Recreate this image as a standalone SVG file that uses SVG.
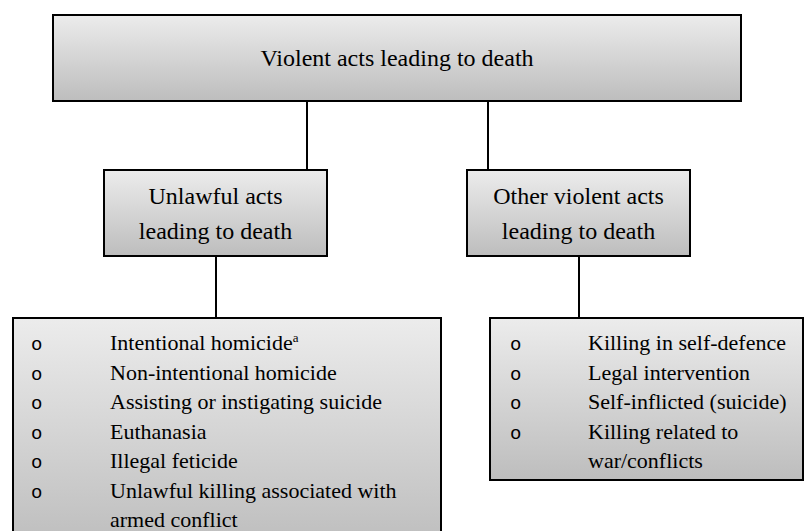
<svg xmlns="http://www.w3.org/2000/svg" width="807" height="531" viewBox="0 0 807 531">
<defs>
<linearGradient id="g" x1="0" y1="0" x2="0" y2="1">
<stop offset="0" stop-color="#ececec"/>
<stop offset="1" stop-color="#bdbdbd"/>
</linearGradient>
<style>
.box{fill:url(#g);stroke:#000;stroke-width:2}
.t{font-family:"Liberation Serif","Times New Roman",serif;fill:#000}
.h{font-size:24px;text-anchor:middle}
.l{font-size:22px}
.b{font-family:"Liberation Mono","Courier New",monospace;font-size:19px;fill:#000}
.c{stroke:#000;stroke-width:2;fill:none}
</style>
</defs>
<rect width="807" height="531" fill="#fff"/>
<g id="connectors">
<line class="c" x1="307" y1="101" x2="307" y2="170"/>
<line class="c" x1="488" y1="101" x2="488" y2="170"/>
<line class="c" x1="216" y1="256" x2="216" y2="318"/>
<line class="c" x1="579" y1="256" x2="579" y2="318"/>
</g>
<g id="root">
<rect class="box" x="53" y="15" width="688" height="86"/>
<text class="t h" x="397" y="66">Violent acts leading to death</text>
</g>
<g id="unlawful">
<rect class="box" x="104" y="170" width="223" height="86"/>
<text class="t h" x="215.5" y="204">Unlawful acts</text>
<text class="t h" x="215.5" y="239">leading to death</text>
</g>
<g id="other">
<rect class="box" x="467" y="170" width="223" height="86"/>
<text class="t h" x="578.5" y="204">Other violent acts</text>
<text class="t h" x="578.5" y="239">leading to death</text>
</g>
<g id="unlawful-list">
<rect class="box" x="13" y="318" width="428" height="230"/>
<text class="b" x="31" y="350">o</text>
<text class="b" x="31" y="379.5">o</text>
<text class="b" x="31" y="409">o</text>
<text class="b" x="31" y="438.5">o</text>
<text class="b" x="31" y="468">o</text>
<text class="b" x="31" y="497.5">o</text>
<text class="t l" x="110" y="350">Intentional homicide<tspan font-size="13" dy="-8">a</tspan></text>
<text class="t l" x="110" y="379.5">Non-intentional homicide</text>
<text class="t l" x="110" y="409">Assisting or instigating suicide</text>
<text class="t l" x="110" y="438.5">Euthanasia</text>
<text class="t l" x="110" y="468">Illegal feticide</text>
<text class="t l" x="110" y="497.5">Unlawful killing associated with</text>
<text class="t l" x="110" y="527">armed conflict</text>
</g>
<g id="other-list">
<rect class="box" x="490" y="318" width="313" height="162"/>
<text class="b" x="510" y="350">o</text>
<text class="b" x="510" y="379.5">o</text>
<text class="b" x="510" y="409">o</text>
<text class="b" x="510" y="438.5">o</text>
<text class="t l" x="588" y="350">Killing in self-defence</text>
<text class="t l" x="588" y="379.5">Legal intervention</text>
<text class="t l" x="588" y="409">Self-inflicted (suicide)</text>
<text class="t l" x="588" y="438.5">Killing related to</text>
<text class="t l" x="588" y="468">war/conflicts</text>
</g>
</svg>
